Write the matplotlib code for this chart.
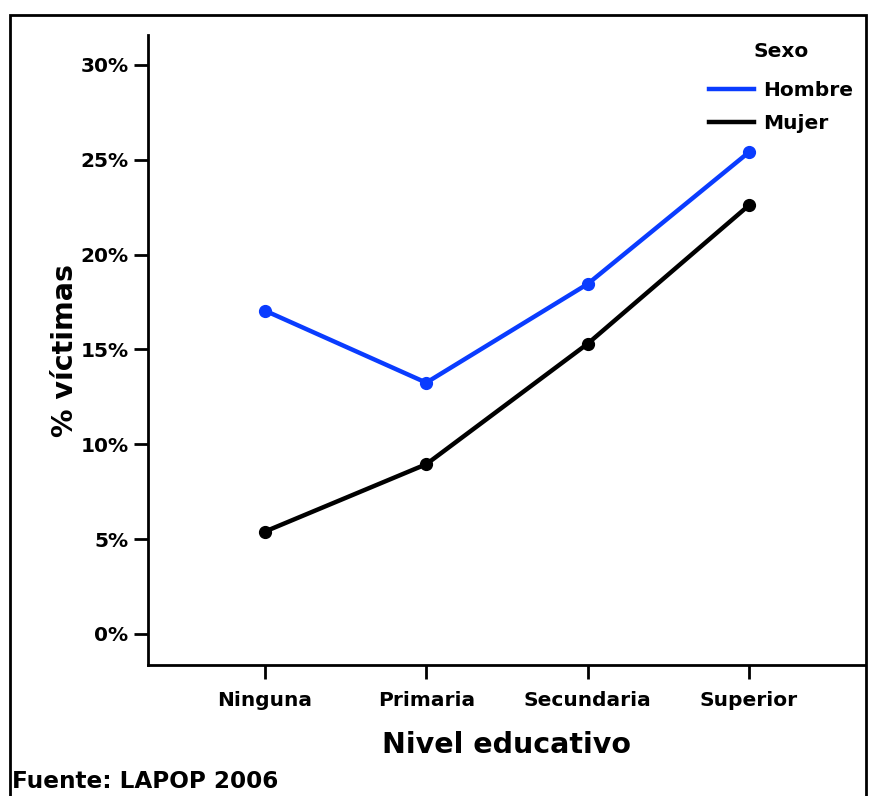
import matplotlib
matplotlib.use('Agg')
import matplotlib.pyplot as plt
from matplotlib.patches import Rectangle

plt.rcParams['font.family'] = ['DejaVu Sans']
plt.rcParams['font.weight'] = 'bold'

niveles = ['Ninguna', 'Primaria', 'Secundaria', 'Superior']
hombre = [17.05, 13.25, 18.45, 25.4]
mujer = [5.4, 8.95, 15.3, 22.6]
yticks = [0, 5, 10, 15, 20, 25, 30]

fig = plt.figure(figsize=(8.72, 7.96), dpi=100)
ax = fig.add_axes([0.1697, 0.1646, 0.992 - 0.1697, 0.956 - 0.1646])

# frame round the whole figure (bottom edge falls outside)
fig.patches.append(Rectangle((10 / 872, -0.05), (866 - 10) / 872, 1.05 - 15 / 796,
                             transform=fig.transFigure, fill=False,
                             edgecolor='black', linewidth=2))

x = list(range(len(niveles)))
ax.plot(x, hombre, '-o', color='#0a3cff', lw=3.2, ms=8.5, label='Hombre')
ax.plot(x, mujer, '-o', color='black', lw=3.2, ms=8.5, label='Mujer')

ax.set_xlim(-0.725, 3.72)
ax.set_ylim(-1.634, 31.58)
ax.set_xticks(x)
ax.set_xticklabels(niveles, fontsize=14.5, fontweight='bold')
ax.set_yticks(yticks)
ax.set_yticklabels([f'{v}%' for v in yticks], fontsize=14.5, fontweight='bold')
ax.tick_params(axis='both', direction='out', length=10, width=2, color='black')
ax.tick_params(axis='x', pad=9)
ax.tick_params(axis='y', pad=4)

for s in ['top', 'right']:
    ax.spines[s].set_visible(False)
for s in ['left', 'bottom']:
    ax.spines[s].set_linewidth(2)

ax.set_xlabel('Nivel educativo', fontsize=20.5, fontweight='bold', labelpad=15)
ax.set_ylabel('% víctimas', fontsize=20.5, fontweight='bold', labelpad=1)

leg = ax.legend(title='Sexo', loc='upper right', bbox_to_anchor=(1.008, 1.017),
                frameon=False, prop={'size': 14.5, 'weight': 'bold'},
                title_fontproperties={'size': 14.5, 'weight': 'bold'},
                handlelength=2.2, handletextpad=0.45, labelspacing=0.7)
leg._legend_box.sep = 14
for h in leg.legend_handles:
    h.set_marker('')

fig.text(12 / 872, 1 - 788 / 796, 'Fuente: LAPOP 2006', fontsize=16.7,
         fontweight='bold', va='baseline', ha='left')

fig.savefig('out.png', dpi=100)
